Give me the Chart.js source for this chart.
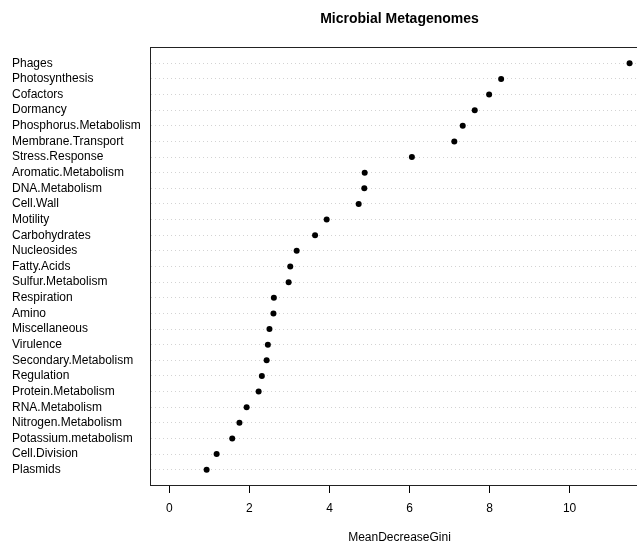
<!DOCTYPE html>
<html>
<head>
<meta charset="utf-8">
<title>Microbial Metagenomes</title>
<script src="https://cdn.jsdelivr.net/npm/chart.js@4/dist/chart.umd.min.js"></script>
<style>
    html, body { margin: 0; padding: 0; background: #fff; overflow: hidden; }
    #wrap { width: 637px; height: 546px; overflow: hidden; }
</style>
</head>
<body>
<div id="wrap">
    <canvas id="dotChart" width="799" height="546"></canvas>
</div>
<script>
// Variables, de haut en bas (ordre du graphique)
const categories = [
    'Phages', 'Photosynthesis', 'Cofactors', 'Dormancy', 'Phosphorus.Metabolism',
    'Membrane.Transport', 'Stress.Response', 'Aromatic.Metabolism', 'DNA.Metabolism',
    'Cell.Wall', 'Motility', 'Carbohydrates', 'Nucleosides', 'Fatty.Acids',
    'Sulfur.Metabolism', 'Respiration', 'Amino', 'Miscellaneous', 'Virulence',
    'Secondary.Metabolism', 'Regulation', 'Protein.Metabolism', 'RNA.Metabolism',
    'Nitrogen.Metabolism', 'Potassium.metabolism', 'Cell.Division', 'Plasmids'
];

// MeanDecreaseGini
const giniValues = [
    11.50, 8.29, 7.99, 7.63, 7.33,
    7.12, 6.06, 4.88, 4.87,
    4.73, 3.93, 3.64, 3.18, 3.02,
    2.98, 2.61, 2.60, 2.50, 2.46,
    2.43, 2.31, 2.23, 1.93,
    1.75, 1.57, 1.18, 0.93
];

const xTicks = [0, 2, 4, 6, 8, 10];

const FONT = "'Liberation Sans', Arial, Helvetica, sans-serif";
const n = categories.length;

// Plage x façon R : xlim = c(0, max) étendue de 4 %
const xMax = Math.max(...giniValues);
const xPad = xMax * 0.04;
const yPad = (n - 1) * 0.04;

// Cadre autour de la zone de tracé
const boxPlugin = {
    id: 'plotBox',
    afterDatasetsDraw(chart) {
        const { ctx, chartArea } = chart;
        ctx.save();
        ctx.strokeStyle = '#222';
        ctx.lineWidth = 1;
        ctx.strokeRect(chartArea.left - 0.5, chartArea.top + 0.5,
            chartArea.right - chartArea.left, chartArea.bottom - chartArea.top - 1);
        ctx.restore();
    }
};

new Chart(document.getElementById('dotChart'), {
    type: 'scatter',
    data: {
        datasets: [{
            label: 'MeanDecreaseGini',
            data: giniValues.map((v, i) => ({ x: v, y: n - i })),
            backgroundColor: '#000',
            borderWidth: 0,
            pointRadius: 3,
            pointHoverRadius: 3
        }]
    },
    options: {
        responsive: false,
        animation: false,
        layout: { padding: { left: 12, right: 12, top: 0, bottom: 0 } },
        plugins: {
            legend: { display: false },
            tooltip: { enabled: false },
            title: {
                display: true,
                text: 'Microbial Metagenomes',
                color: '#000',
                font: { family: FONT, size: 14, weight: 'bold' },
                padding: { top: 11, bottom: 19.2 }
            }
        },
        scales: {
            x: {
                type: 'linear',
                position: 'bottom',
                min: -xPad,
                max: xMax + xPad,
                afterBuildTicks: scale => { scale.ticks = xTicks.map(v => ({ value: v })); },
                afterFit: scale => { scale.height = 60; },
                ticks: {
                    color: '#000',
                    font: { family: FONT, size: 12 },
                    padding: 8,
                    maxRotation: 0,
                    autoSkip: false
                },
                grid: {
                    drawOnChartArea: false,
                    drawTicks: true,
                    tickLength: 7,
                    color: '#000'
                },
                border: { display: false },
                title: {
                    display: true,
                    text: 'MeanDecreaseGini',
                    color: '#000',
                    font: { family: FONT, size: 12 },
                    padding: { top: 0, bottom: 1 }
                }
            },
            y: {
                type: 'linear',
                position: 'left',
                min: 1 - yPad,
                max: n + yPad,
                afterBuildTicks: scale => {
                    scale.ticks = categories.map((c, i) => ({ value: n - i }));
                },
                afterFit: scale => { scale.width = 139; },
                ticks: {
                    color: '#000',
                    font: { family: FONT, size: 12 },
                    crossAlign: 'far',
                    autoSkip: false,
                    callback: value => categories[n - value]
                },
                grid: {
                    color: '#d3d3d3',
                    lineWidth: 1,
                    drawTicks: false
                },
                border: { display: false, dash: [1, 3] }
            },
            // axe vide à droite pour centrer le titre sur la zone de tracé
            yRight: {
                type: 'linear',
                position: 'right',
                afterFit: scale => { scale.width = 139; },
                ticks: { display: false },
                grid: { display: false },
                border: { display: false }
            }
        }
    },
    plugins: [boxPlugin]
});
</script>
</body>
</html>
